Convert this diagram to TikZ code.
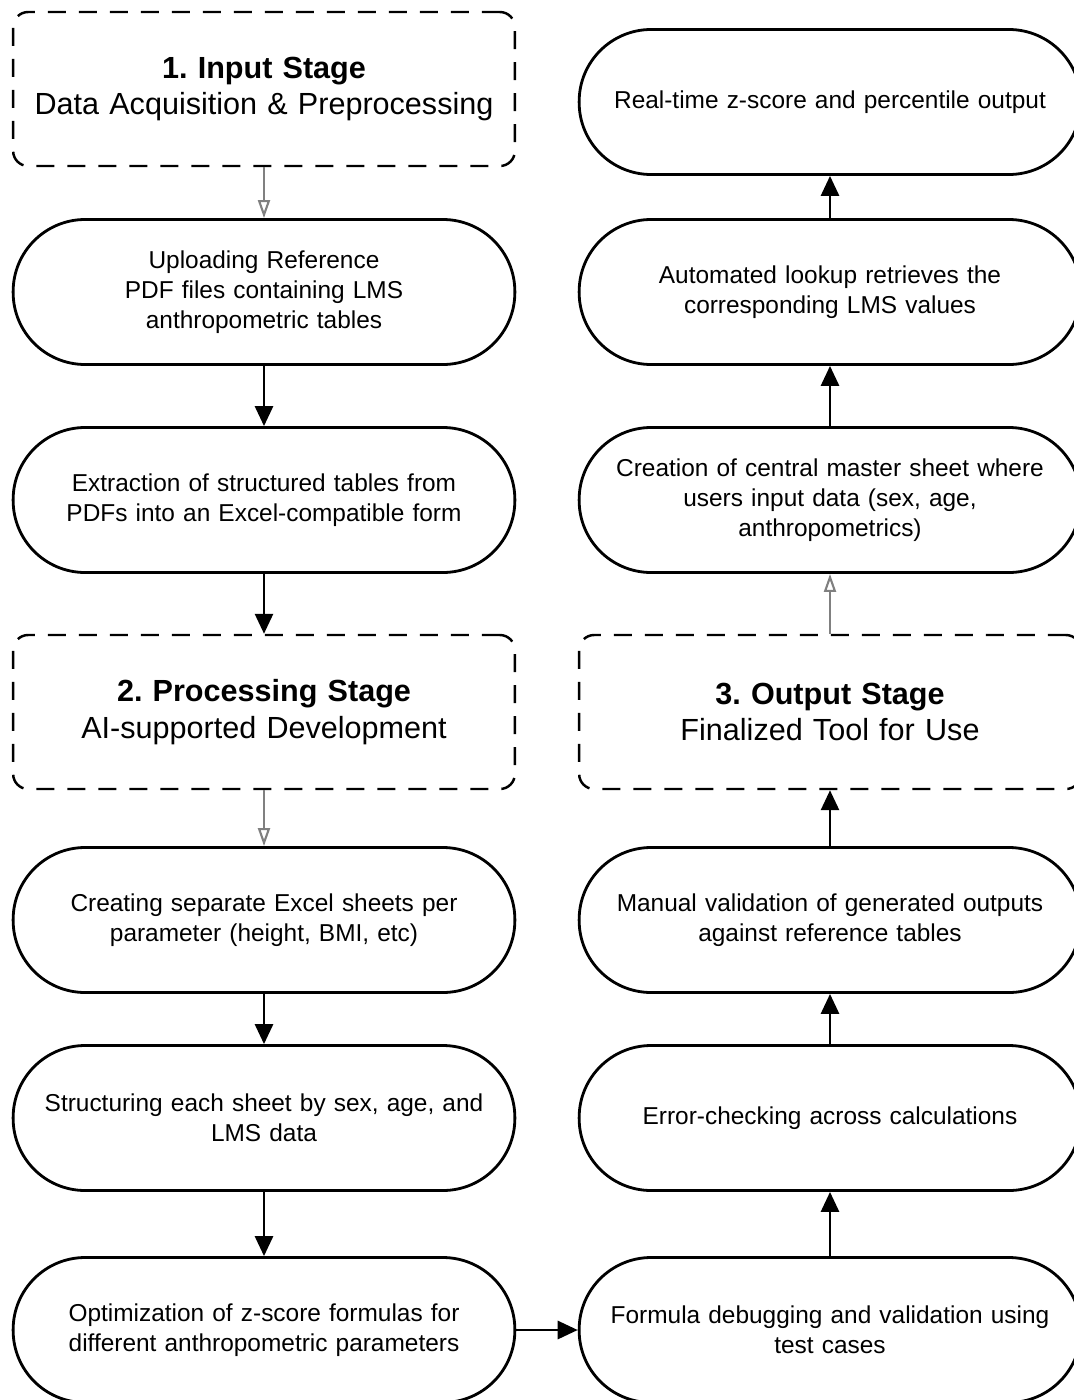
\documentclass[tikz,border=0pt]{standalone}
\usepackage{fontspec}
\setmainfont{Liberation Sans}
\usepackage{tikz}
\usetikzlibrary{shapes,arrows,arrows.meta}
\usetikzlibrary{positioning}
\frenchspacing
\tikzstyle{stage} = [rectangle, draw, dash pattern=on 0.36cm off 0.26cm, line width=1.4pt,
    rounded corners=0.3cm, text width=9.8cm, text centered, minimum width=9.98cm,
    minimum height=3.08cm, font=\fontsize{17.4}{21}\selectfont]
\tikzstyle{block} = [rectangle, draw, line width=1.6pt, rounded corners=1.44cm,
    text width=9.8cm, text centered, minimum width=9.98cm, minimum height=2.9cm,
    font=\fontsize{13.9}{17}\selectfont]
\tikzstyle{line} = [draw, line width=1.6pt, -{Triangle[length=0.4cm,width=0.36cm]}]
\tikzstyle{weakline} = [draw, gray, line width=1.2pt, -{Triangle[open,length=0.36cm,width=0.24cm]}]

\begin{document}
\begin{tikzpicture}[node distance = 4.16cm,auto]
    \useasboundingbox (0,0) rectangle (21.48,-28);
    % Place nodes
    \node [stage] (input) at (5.28,-1.78) {{\bfseries 1. Input Stage}\\ Data Acquisition \& Preprocessing};
    \node [block, below of=input, node distance=4.06cm] (upload) {Uploading Reference\\ PDF files containing LMS\\ anthropometric tables};
    \node [block, below of=upload] (extract) {Extraction of structured tables from\\ PDFs into an Excel-compatible form};
    \node [stage, below of=extract, node distance=4.24cm] (processing) {{\bfseries 2. Processing Stage}\\ AI-supported Development};
    \node [block, below of=processing] (sheets) {Creating separate Excel sheets per\\ parameter (height, BMI, etc)};
    \node [block, below of=sheets, node distance=3.96cm] (structure) {Structuring each sheet by sex, age, and\\ LMS data};
    \node [block, below of=structure, node distance=4.24cm] (optimize) {Optimization of z-score formulas for\\ different anthropometric parameters};
    \node [block, right of=optimize, node distance=11.32cm] (debug) {Formula debugging and validation using\\ test cases};
    \node [block, above of=debug, node distance=4.24cm] (errors) {Error-checking across calculations};
    \node [block, above of=errors, node distance=3.96cm] (manual) {Manual validation of generated outputs\\ against reference tables};
    \node [stage, above of=manual] (output) {{\bfseries 3. Output Stage}\\ Finalized Tool for Use};
    \node [block, above of=output, node distance=4.24cm] (master) {Creation of central master sheet where\\ users input data (sex, age,\\ anthropometrics)};
    \node [block, above of=master] (lookup) {Automated lookup retrieves the\\ corresponding LMS values};
    \node [block, above of=lookup, node distance=3.8cm] (realtime) {Real-time z-score and percentile output};
    % Draw edges
    \path [weakline] (input) -- (upload);
    \path [line] (upload) -- (extract);
    \path [line] (extract) -- (processing);
    \path [weakline] (processing) -- (sheets);
    \path [line] (sheets) -- (structure);
    \path [line] (structure) -- (optimize);
    \path [line] (optimize) -- (debug);
    \path [line] (debug) -- (errors);
    \path [line] (errors) -- (manual);
    \path [line] (manual) -- (output);
    \path [weakline] (output) -- (master);
    \path [line] (master) -- (lookup);
    \path [line] (lookup) -- (realtime);
\end{tikzpicture}
\end{document}
